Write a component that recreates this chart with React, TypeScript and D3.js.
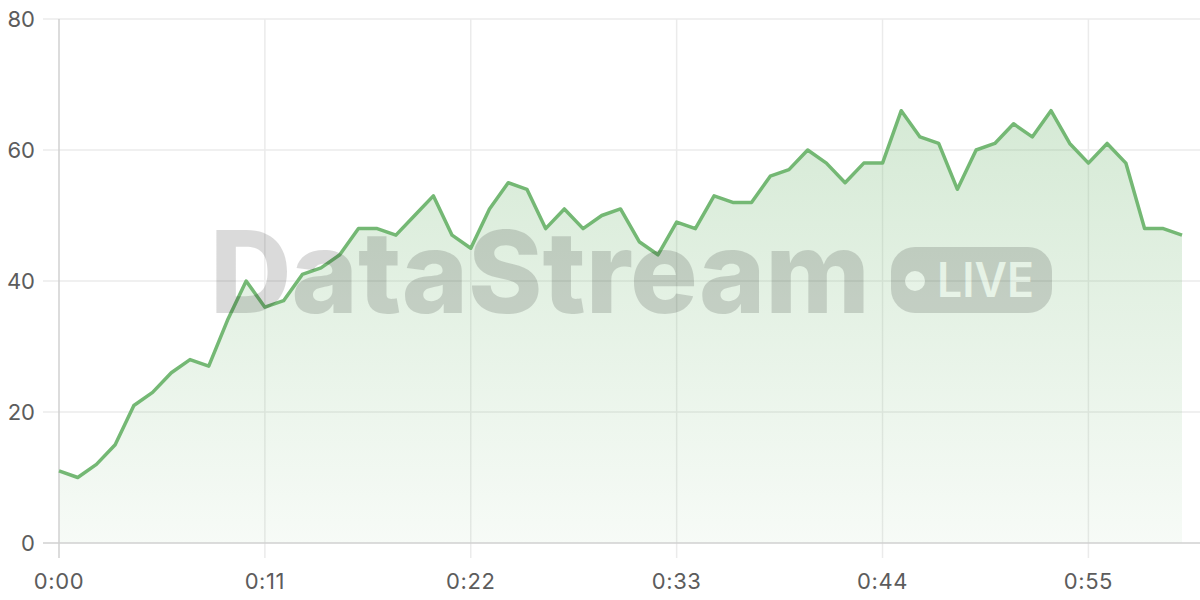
import React, { useEffect, useRef } from 'react';
import * as d3 from 'd3';

// one sample per second, 0:00 .. 1:00
const seconds = d3.range(0, 61);
const values = [
  11, 10, 12, 15, 21, 23, 26, 28, 27, 34,
  40, 36, 37, 41, 42, 44, 48, 48, 47, 50,
  53, 47, 45, 51, 55, 54, 48, 51, 48, 50,
  51, 46, 44, 49, 48, 53, 52, 52, 56, 57,
  60, 58, 55, 58, 58, 66, 62, 61, 54, 60,
  61, 64, 62, 66, 61, 58, 61, 58, 48, 48,
  47,
];
const xTicks = [0, 11, 22, 33, 44, 55];
const yTicks = [0, 20, 40, 60, 80];

const lineColor = '#74b874';
const fontFamily = 'Inter, "Open Sans", sans-serif';

const fmtTime = (s: number) => `${Math.floor(s / 60)}:${String(s % 60).padStart(2, '0')}`;

const App: React.FC = () => {
  const svgRef = useRef<SVGSVGElement>(null);

  useEffect(() => {
    if (!svgRef.current) return;
    const svg = d3.select(svgRef.current);
    svg.selectAll('*').remove();

    const width = 1200;
    const height = 600;
    const margin = { top: 19, right: 18, bottom: 57, left: 59 };
    const innerWidth = width - margin.left - margin.right;
    const innerHeight = height - margin.top - margin.bottom;

    const data = seconds.map((s, i) => ({ s, v: values[i] }));

    const xScale = d3.scaleLinear().domain([0, 60]).range([0, innerWidth]);
    const yScale = d3.scaleLinear().domain([0, 80]).range([innerHeight, 0]);

    const defs = svg.append('defs');
    const grad = defs.append('linearGradient')
      .attr('id', 'areaFill')
      .attr('gradientUnits', 'userSpaceOnUse')
      .attr('x1', 0).attr('x2', 0)
      .attr('y1', yScale(d3.max(values) as number))
      .attr('y2', innerHeight);
    grad.append('stop').attr('offset', '0%').attr('stop-color', lineColor).attr('stop-opacity', 0.3);
    grad.append('stop').attr('offset', '100%').attr('stop-color', lineColor).attr('stop-opacity', 0.06);

    const g = svg.append('g').attr('transform', `translate(${margin.left},${margin.top})`);

    // grid
    g.append('g')
      .selectAll('line')
      .data(yTicks.filter(t => t !== 0))
      .join('line')
      .attr('x1', -16)
      .attr('x2', width - margin.left)
      .attr('y1', d => yScale(d))
      .attr('y2', d => yScale(d))
      .attr('stroke', '#ebebeb')
      .attr('stroke-width', 1.5);

    g.append('g')
      .selectAll('line')
      .data(xTicks.filter(t => t !== 0))
      .join('line')
      .attr('x1', d => xScale(d))
      .attr('x2', d => xScale(d))
      .attr('y1', 0)
      .attr('y2', innerHeight + 15)
      .attr('stroke', '#ebebeb')
      .attr('stroke-width', 1.5);

    // area
    const area = d3.area<{ s: number; v: number }>()
      .x(d => xScale(d.s))
      .y0(innerHeight)
      .y1(d => yScale(d.v));

    g.append('path')
      .datum(data)
      .attr('fill', 'url(#areaFill)')
      .attr('d', area);

    // axes lines
    g.append('line')
      .attr('x1', -16).attr('x2', width - margin.left)
      .attr('y1', innerHeight).attr('y2', innerHeight)
      .attr('stroke', '#d0d0d0').attr('stroke-width', 1.5);
    g.append('line')
      .attr('x1', 0).attr('x2', 0)
      .attr('y1', 0).attr('y2', innerHeight + 15)
      .attr('stroke', '#d0d0d0').attr('stroke-width', 1.5);

    // tick labels
    g.append('g')
      .selectAll('text')
      .data(yTicks)
      .join('text')
      .attr('x', -24)
      .attr('y', d => yScale(d))
      .attr('dy', '0.36em')
      .attr('text-anchor', 'end')
      .attr('fill', '#5c5c5c')
      .attr('font-family', fontFamily)
      .attr('font-size', 22)
      .text(d => d);

    g.append('g')
      .selectAll('text')
      .data(xTicks)
      .join('text')
      .attr('x', d => xScale(d))
      .attr('y', innerHeight + 38)
      .attr('dy', '0.36em')
      .attr('text-anchor', 'middle')
      .attr('fill', '#5c5c5c')
      .attr('font-family', fontFamily)
      .attr('font-size', 22)
      .attr('letter-spacing', 0.6)
      .text(d => fmtTime(d));

    // watermark
    const wm = svg.append('g').attr('opacity', 0.14);
    wm.append('text')
      .attr('x', 210)
      .attr('y', 313)
      .attr('font-family', fontFamily)
      .attr('font-weight', 800)
      .attr('font-size', 114)
      .attr('textLength', 660)
      .attr('lengthAdjust', 'spacingAndGlyphs')
      .attr('fill', '#000')
      .text('DataStream');
    wm.append('rect')
      .attr('x', 891).attr('y', 247)
      .attr('width', 161).attr('height', 66)
      .attr('rx', 24)
      .attr('fill', '#000');
    wm.append('circle')
      .attr('cx', 915).attr('cy', 281).attr('r', 10)
      .attr('fill', '#fff');
    wm.append('text')
      .attr('x', 937)
      .attr('y', 297)
      .attr('font-family', fontFamily)
      .attr('font-weight', 600)
      .attr('font-size', 48)
      .attr('textLength', 97)
      .attr('lengthAdjust', 'spacingAndGlyphs')
      .attr('fill', '#fff')
      .text('LIVE');

    // line on top
    const line = d3.line<{ s: number; v: number }>()
      .x(d => xScale(d.s))
      .y(d => yScale(d.v));

    g.append('path')
      .datum(data)
      .attr('fill', 'none')
      .attr('stroke', lineColor)
      .attr('stroke-width', 3.5)
      .attr('stroke-linejoin', 'round')
      .attr('d', line);
  }, []);

  return (
    <svg
      ref={svgRef}
      width={1200}
      height={600}
      style={{ position: 'absolute', top: 0, left: 0, display: 'block', background: '#fff' }}
    />
  );
};

export default App;
